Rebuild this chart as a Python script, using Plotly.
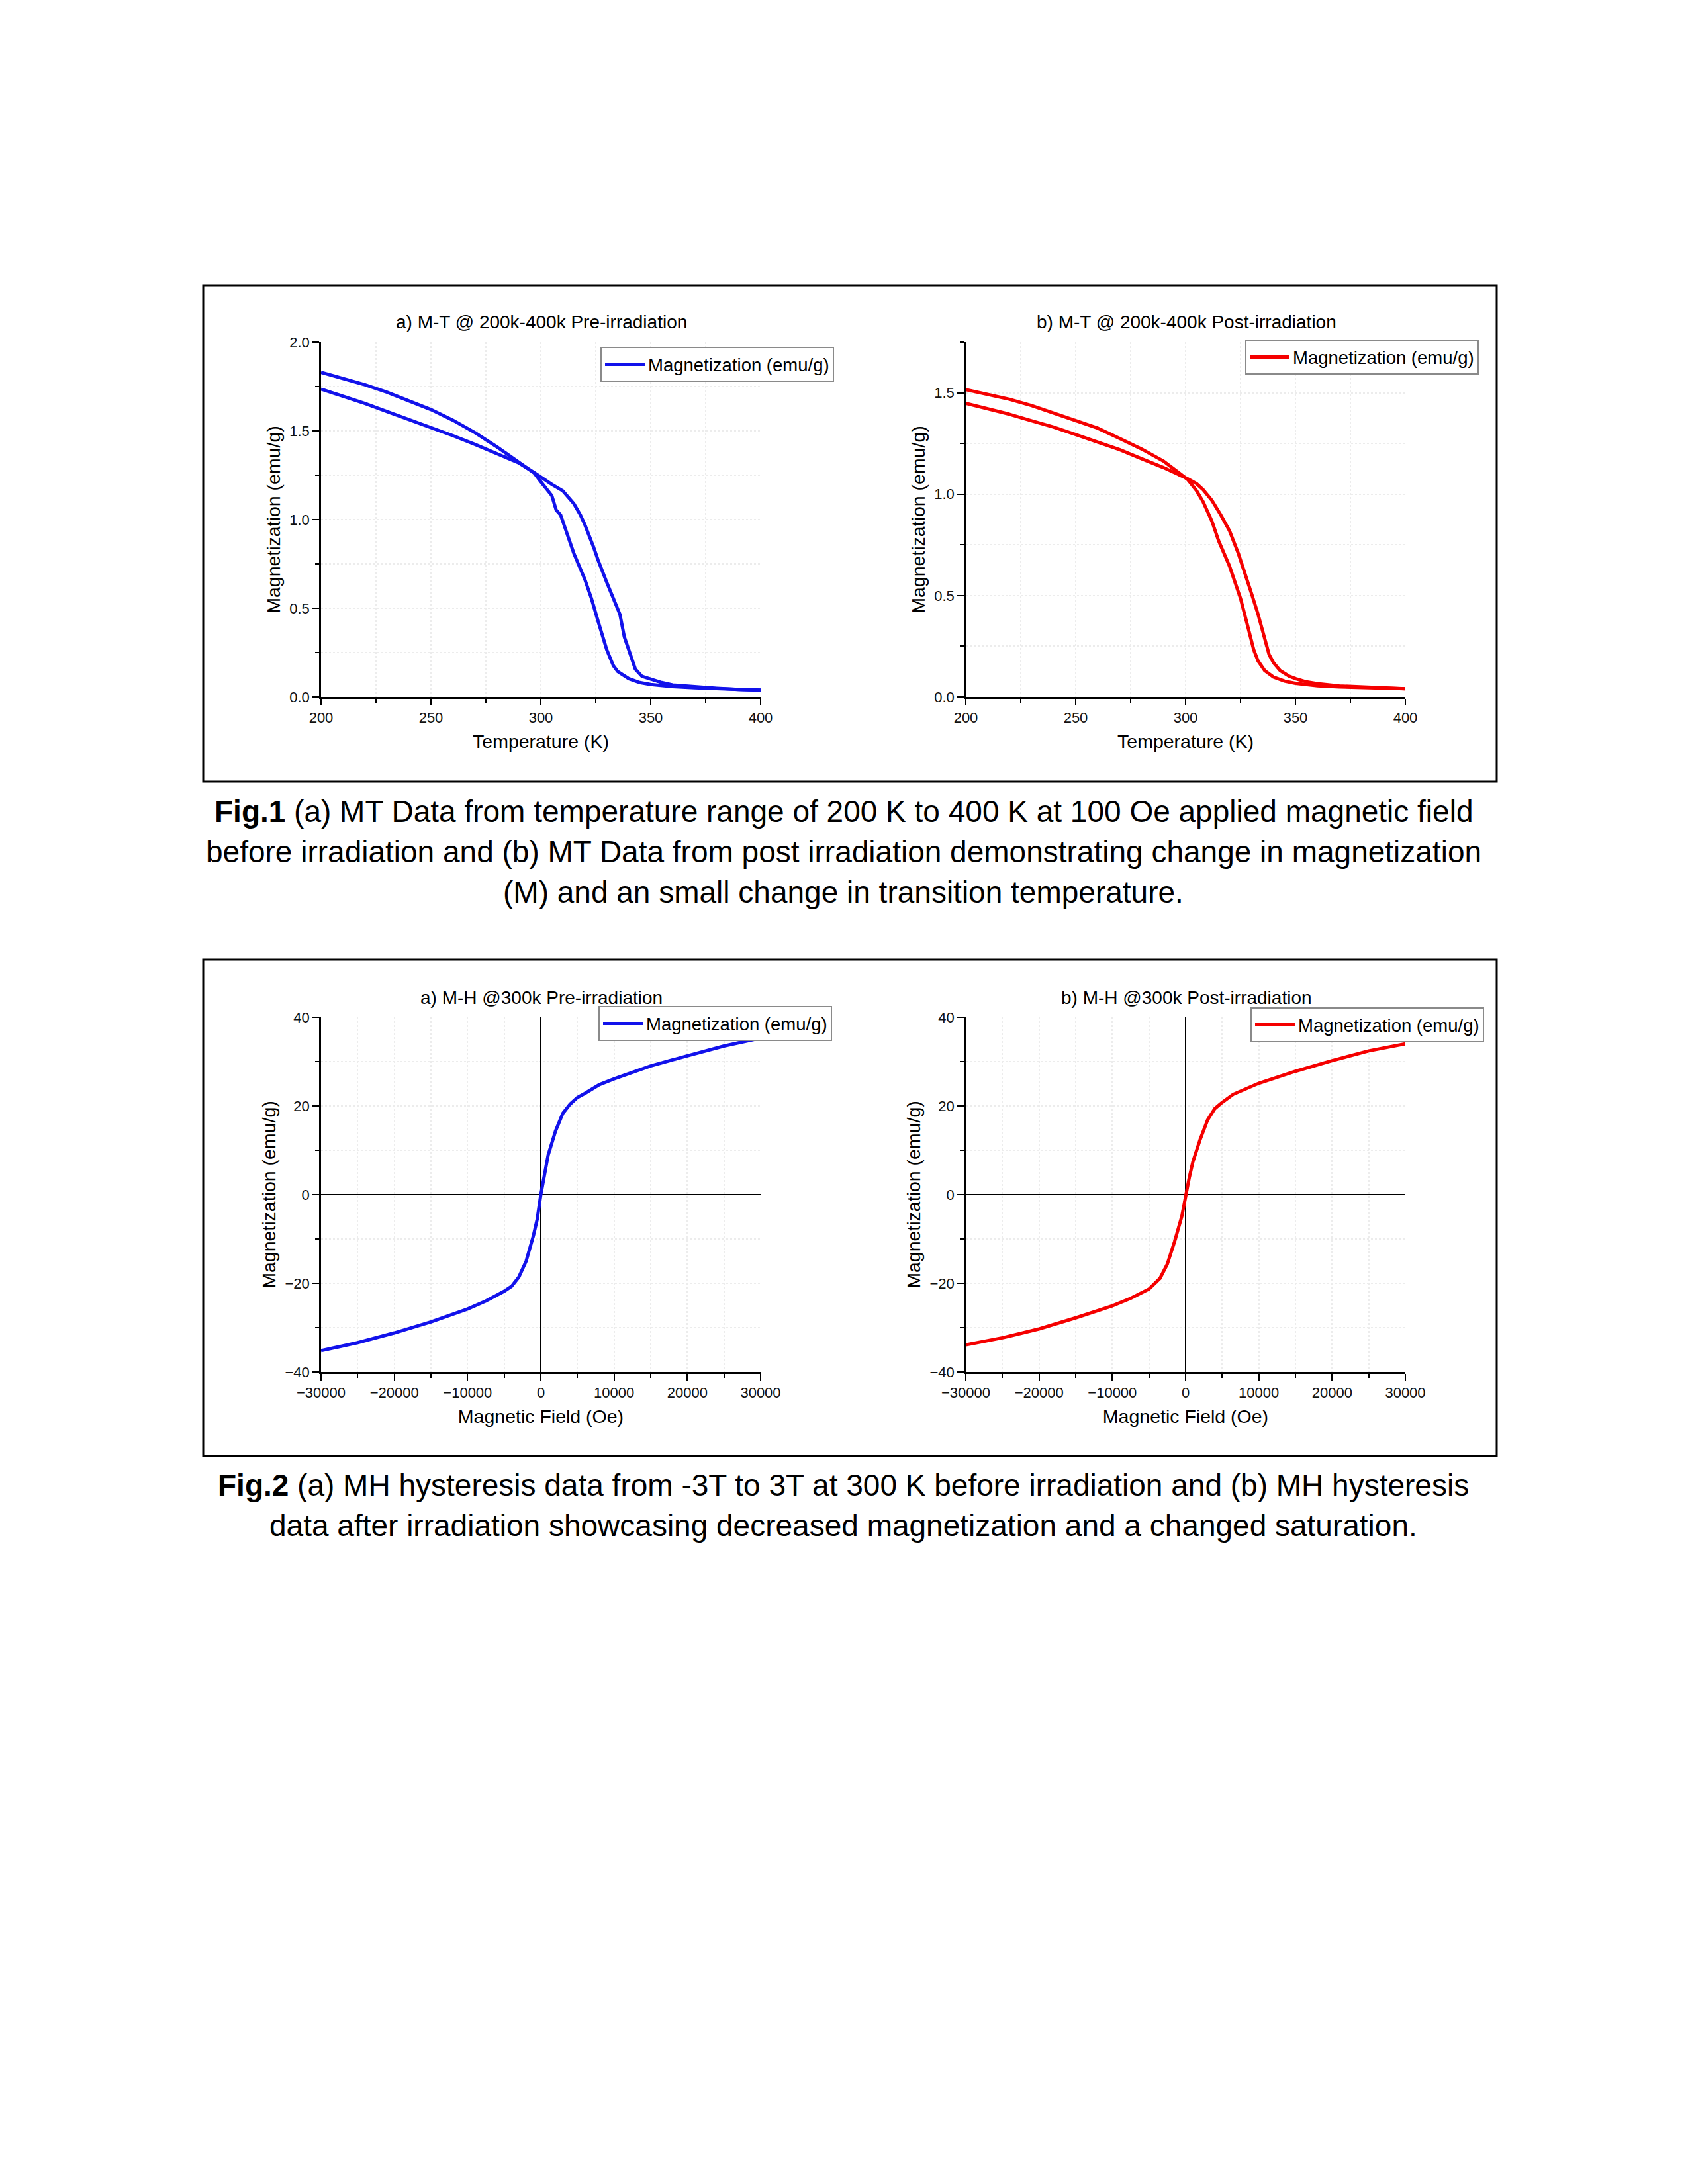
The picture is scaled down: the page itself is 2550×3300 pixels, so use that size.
import plotly.graph_objects as go

# ---------------- data ----------------
T_pre_1 = [200, 210, 220, 230, 240, 250, 260, 270, 280, 290, 297, 300, 305, 307, 309, 312, 315, 320,
           323, 326, 330, 333, 335, 340, 345, 350, 360, 370, 380, 390, 400]
M_pre_1 = [1.83, 1.796, 1.76, 1.718, 1.669, 1.62, 1.56, 1.49, 1.41, 1.325, 1.262, 1.213, 1.135, 1.053,
           1.026, 0.918, 0.81, 0.664, 0.556, 0.429, 0.266, 0.176, 0.143, 0.103, 0.081, 0.07, 0.058,
           0.051, 0.045, 0.042, 0.038]
T_pre_2 = [200, 210, 220, 230, 240, 250, 260, 270, 280, 290, 297, 300, 305, 310, 315, 318, 320, 324,
           326, 330, 334, 336, 338, 341, 343, 346, 350, 355, 360, 370, 380, 390, 400]
M_pre_2 = [1.736, 1.696, 1.654, 1.609, 1.564, 1.519, 1.473, 1.424, 1.37, 1.319, 1.265, 1.24, 1.198,
           1.162, 1.09, 1.026, 0.972, 0.845, 0.773, 0.646, 0.519, 0.465, 0.338, 0.221, 0.157, 0.116,
           0.1, 0.081, 0.067, 0.056, 0.049, 0.042, 0.038]

T_post_1 = [200, 210, 220, 230, 240, 250, 260, 270, 280, 290, 295, 301, 305, 308, 312, 315, 320, 323,
            325, 328, 331, 333, 336, 340, 345, 350, 360, 370, 380, 390, 400]
M_post_1 = [1.516, 1.492, 1.468, 1.437, 1.40, 1.365, 1.326, 1.275, 1.223, 1.163, 1.12, 1.072, 1.017,
            0.962, 0.866, 0.771, 0.645, 0.55, 0.486, 0.36, 0.233, 0.177, 0.13, 0.098, 0.078, 0.067,
            0.055, 0.049, 0.046, 0.043, 0.04]
T_post_2 = [200, 210, 220, 230, 240, 250, 260, 270, 280, 290, 301, 305, 308, 312, 316, 320, 324, 327,
            330, 333, 336, 338, 340, 343, 347, 350, 355, 360, 370, 380, 390, 400]
M_post_2 = [1.448, 1.421, 1.394, 1.362, 1.331, 1.294, 1.259, 1.22, 1.175, 1.131, 1.076, 1.052, 1.022,
            0.969, 0.898, 0.819, 0.708, 0.613, 0.51, 0.407, 0.296, 0.209, 0.169, 0.13, 0.103, 0.09,
            0.074, 0.065, 0.054, 0.048, 0.043, 0.04]

H_pre = [-30000, -25000, -20000, -15000, -10000, -7500, -5000, -4000, -3000, -2000, -1000, -500, 0,
         500, 1000, 2000, 3000, 4000, 5000, 6000, 8000, 10000, 15000, 20000, 25000, 30000]
MH_pre = [-35.2, -33.4, -31.2, -28.7, -25.8, -24.0, -21.8, -20.7, -18.6, -15.0, -9.2, -5.6, 0.0,
          4.6, 8.9, 14.3, 18.3, 20.4, 21.9, 22.8, 24.8, 26.1, 29.0, 31.3, 33.5, 35.3]

H_post = [-30000, -25000, -20000, -15000, -10000, -7500, -5000, -3500, -2500, -1500, -500, 0, 500,
          1000, 2000, 3000, 4000, 5000, 6500, 10000, 15000, 20000, 25000, 30000]
MH_post = [-33.9, -32.3, -30.3, -27.8, -25.1, -23.4, -21.3, -18.9, -15.7, -10.6, -4.8, 0.0, 3.8,
           7.4, 12.5, 16.8, 19.4, 20.8, 22.6, 25.1, 27.8, 30.2, 32.4, 34.0]

legend_name = "Magnetization (emu/g)"
titles = ["a) M-T @ 200k-400k Pre-irradiation", "b) M-T @ 200k-400k Post-irradiation",
          "a) M-H @300k Pre-irradiation", "b) M-H @300k Post-irradiation"]
caption1 = ["<b>Fig.1</b> (a) MT Data from temperature range of 200 K to 400 K at 100 Oe applied magnetic field",
            "before irradiation and (b) MT Data from post irradiation demonstrating change in magnetization",
            "(M) and an small change in transition temperature."]
caption2 = ["<b>Fig.2</b> (a) MH hysteresis data from -3T to 3T at 300 K before irradiation and (b) MH hysteresis",
            "data after irradiation showcasing decreased magnetization and a changed saturation."]

BLUE = "rgb(18,18,235)"
RED = "rgb(245,0,0)"
FONT = "Liberation Sans, Arial, sans-serif"

W, H = 2550, 3300
def px(x):
    return x / W
def py(y):
    return 1 - y / H

fig = go.Figure()

def add(x, y, color, xa, ya, leg, show):
    fig.add_trace(go.Scatter(x=x, y=y, mode="lines", name=legend_name,
                             line=dict(color=color, width=5),
                             xaxis=xa, yaxis=ya, legend=leg, showlegend=show,
                             legendgroup=leg))

add(T_pre_1, M_pre_1, BLUE, "x", "y", "legend", True)
add(T_pre_2, M_pre_2, BLUE, "x", "y", "legend", False)
add(T_post_1, M_post_1, RED, "x2", "y2", "legend2", True)
add(T_post_2, M_post_2, RED, "x2", "y2", "legend2", False)
add(H_pre, MH_pre, BLUE, "x3", "y3", "legend3", True)
add(H_post, MH_post, RED, "x4", "y4", "legend4", True)

AX_L = [477, 1451]
AX_R = [1141, 2115]
Y1 = (509, 1045)
Y2 = (1529, 2065)

tickfont = dict(family=FONT, size=22, color="#111")
titlefont = dict(family=FONT, size=28.5, color="black")
GRIDC = "#ececec"

def xaxis(i, rng, dtick, mdtick, title, anchor):
    return dict(domain=[px(AX_L[i]), px(AX_R[i])], range=rng, dtick=dtick, tick0=rng[0],
                anchor=anchor, showline=True, linecolor="black", linewidth=2.5,
                ticks="outside", ticklen=10, tickwidth=2, tickcolor="black",
                minor=dict(dtick=mdtick, ticks="outside", ticklen=6, tickwidth=2, tickcolor="black",
                           showgrid=True, gridcolor=GRIDC, griddash="dot", gridwidth=1.5),
                tickfont=tickfont, tickformat="d",
                title=dict(text=title, font=titlefont, standoff=14), zeroline=False,
                showgrid=True, gridcolor=GRIDC, griddash="dot", gridwidth=1.5)

def yaxis(yd, rng, dtick, mdtick, fmt, anchor):
    return dict(domain=[py(yd[1]), py(yd[0])], range=rng, dtick=dtick, tick0=0,
                anchor=anchor, showline=True, linecolor="black", linewidth=2.5,
                ticks="outside", ticklen=10, tickwidth=2, tickcolor="black",
                minor=dict(dtick=mdtick, ticks="outside", ticklen=6, tickwidth=2, tickcolor="black",
                           showgrid=True, gridcolor=GRIDC, griddash="dot", gridwidth=1.5),
                tickfont=tickfont, tickformat=fmt,
                title=dict(text="Magnetization (emu/g)", font=titlefont, standoff=6),
                zeroline=False, showgrid=True, gridcolor=GRIDC, griddash="dot", gridwidth=1.5)

lay = dict(
    width=W, height=H, margin=dict(l=0, r=0, t=0, b=0, autoexpand=False),
    paper_bgcolor="white", plot_bgcolor="white",
    font=dict(family=FONT, color="black"),
    xaxis=xaxis(0, [200, 400], 50, 25, "Temperature (K)", "y"),
    yaxis=yaxis(Y1, [0, 2.0], 0.5, 0.25, ".1f", "x"),
    xaxis2=xaxis(1, [200, 400], 50, 25, "Temperature (K)", "y2"),
    yaxis2=yaxis(Y1, [0, 1.75], 0.5, 0.25, ".1f", "x2"),
    xaxis3=xaxis(0, [-30000, 30000], 10000, 5000, "Magnetic Field (Oe)", "y3"),
    yaxis3=yaxis(Y2, [-40, 40], 20, 10, "d", "x3"),
    xaxis4=xaxis(1, [-30000, 30000], 10000, 5000, "Magnetic Field (Oe)", "y4"),
    yaxis4=yaxis(Y2, [-40, 40], 20, 10, "d", "x4"),
)
for k in ["xaxis3", "xaxis4", "yaxis3", "yaxis4"]:
    lay[k].update(zeroline=True, zerolinecolor="black", zerolinewidth=2)

def legend(x, y):
    return dict(x=px(x), y=py(y), xanchor="left", yanchor="top", bgcolor="white",
                bordercolor="#8a8a8a", borderwidth=2, font=dict(family=FONT, size=27.5, color="black"),
                itemwidth=60, tracegroupgap=0)

lay["legend"] = legend(899, 516)
lay["legend2"] = legend(1873, 505)
lay["legend3"] = legend(896, 1512)
lay["legend4"] = legend(1881, 1514)

fig.update_layout(**lay)

# Figure frames
for (y0, y1) in [(423, 1173), (1442, 2192)]:
    fig.add_shape(type="rect", xref="paper", yref="paper", x0=px(299), x1=px(2253),
                  y0=py(y1), y1=py(y0), line=dict(color="black", width=3), fillcolor="rgba(0,0,0,0)")

# Panel titles
for t, (x, y) in zip(titles, [(810, 479), (1784, 479), (810, 1499), (1784, 1499)]):
    fig.add_annotation(text=t, x=px(x), y=py(y), xref="paper", yref="paper", showarrow=False,
                       xanchor="center", yanchor="middle", font=dict(family=FONT, size=28, color="black"))

# Captions
for t, y in zip(caption1 + caption2, [1218, 1279, 1340, 2236, 2297]):
    fig.add_annotation(text=t, x=px(1266), y=py(y), xref="paper", yref="paper", showarrow=False,
                       xanchor="center", yanchor="middle", font=dict(family=FONT, size=46, color="black"))

fig.write_html("out.html")
